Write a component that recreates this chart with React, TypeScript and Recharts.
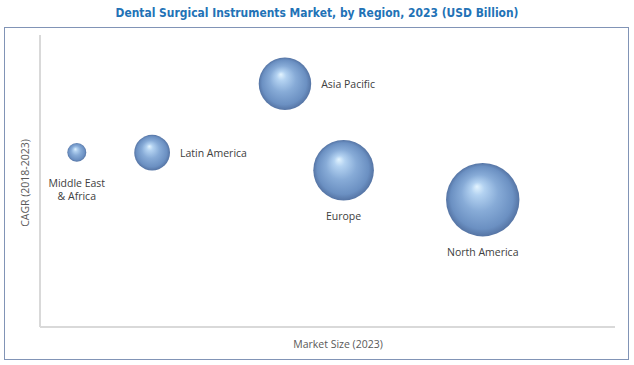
import React from 'react';
import { ScatterChart, Scatter, XAxis, YAxis, ZAxis, Label } from 'recharts';

// Bubble data (axis units 0-100, no ticks shown)
const regions = ['Middle East & Africa', 'Latin America', 'Asia Pacific', 'Europe', 'North America'];
const marketSizePos = [6.4, 19.5, 42.6, 52.8, 77.0];
const cagrPos = [59.8, 59.7, 83.3, 53.7, 43.6];
const marketValue = [0.09, 0.32, 0.69, 0.92, 1.35];

const labelSide: Record<string, 'right' | 'bottom'> = {
  'Middle East & Africa': 'bottom',
  'Latin America': 'right',
  'Asia Pacific': 'right',
  Europe: 'bottom',
  'North America': 'bottom',
};
const labelLines: Record<string, string[]> = {
  'Middle East & Africa': ['Middle East', '& Africa'],
};
const labelGap: Record<string, number> = { 'Middle East & Africa': 21 };

const data = regions.map((name, i) => ({
  name,
  x: marketSizePos[i],
  y: cagrPos[i],
  z: marketValue[i],
}));

const LABEL_FONT = '"Open Sans", "Liberation Sans", sans-serif';

const Bubble = (props: any) => {
  const { cx, cy, width, size, payload } = props;
  const r = width ? width / 2 : Math.sqrt((size || 0) / Math.PI);
  const side = labelSide[payload.name];
  const lines = labelLines[payload.name] || [payload.name];
  const gap = labelGap[payload.name] ?? 16;
  return (
    <g>
      <circle cx={cx} cy={cy} r={r} fill="url(#sphereGrad)" />
      {side === 'right' ? (
        <text x={cx + r + 10} y={cy} dominantBaseline="central" textAnchor="start"
          fontSize={10.5} fontFamily={LABEL_FONT} fill="#404040">{payload.name}</text>
      ) : (
        lines.map((l, i) => (
          <text key={i} x={cx} y={cy + r + gap + i * 13.5} dominantBaseline="central" textAnchor="middle"
            fontSize={10.5} fontFamily={LABEL_FONT} fill="#404040">{l}</text>
        ))
      )}
    </g>
  );
};

export default function App() {
  return (
    <div style={{ position: 'absolute', left: 0, top: 0, width: 634, height: 365, background: '#fff' }}>
      <svg width={634} height={24} style={{ position: 'absolute', left: 0, top: 0 }}>
        <text x={317} y={12} textAnchor="middle" dominantBaseline="central" fontSize={13} fontWeight="bold"
          fontFamily='"DejaVu Sans", Verdana, sans-serif' fill="#2272b6"
          textLength={403} lengthAdjust="spacingAndGlyphs">
          Dental Surgical Instruments Market, by Region, 2023 (USD Billion)
        </text>
      </svg>
      <div style={{ position: 'absolute', left: 4, top: 27, width: 623, height: 331, border: '1px solid #8194b6' }} />
      <div style={{ position: 'absolute', left: 0, top: 0 }}>
        <ScatterChart width={634} height={365} margin={{ top: 35, right: 19, bottom: 37, left: 39 }}>
          <defs>
            <radialGradient id="sphereGrad" cx="50%" cy="50%" r="50%" fx="42%" fy="32%">
              <stop offset="0%" stopColor="#e3f4ff" />
              <stop offset="18%" stopColor="#b3d2f1" />
              <stop offset="50%" stopColor="#87abd7" />
              <stop offset="85%" stopColor="#6b90c2" />
              <stop offset="100%" stopColor="#5574a4" />
            </radialGradient>
          </defs>
          <XAxis type="number" dataKey="x" domain={[0, 100]} height={1} tick={false} tickLine={false}
            axisLine={{ stroke: '#d9d9d9', strokeWidth: 2 }}>
            <Label content={(p: any) => {
              const vb = p.viewBox || { x: 40, y: 327, width: 575 };
              return (
                <text x={338} y={vb.y + 17} textAnchor="middle" dominantBaseline="central"
                  fontSize={10.5} fontFamily={LABEL_FONT} fill="#595959">Market Size (2023)</text>
              );
            }} />
          </XAxis>
          <YAxis type="number" dataKey="y" domain={[0, 100]} width={1} tick={false} tickLine={false}
            axisLine={{ stroke: '#d9d9d9', strokeWidth: 2 }}>
            <Label content={(p: any) => {
              const vb = p.viewBox || { x: 40, y: 35, height: 292 };
              const cy = vb.y + vb.height / 2 + 2;
              return (
                <text x={25} y={cy} transform={`rotate(-90 25 ${cy})`} textAnchor="middle"
                  dominantBaseline="central" fontSize={10.5} fontFamily={LABEL_FONT} fill="#595959">
                  CAGR (2018-2023)
                </text>
              );
            }} />
          </YAxis>
          <ZAxis type="number" dataKey="z" domain={[0, 1.35]} range={[0, Math.PI * 36.7 * 36.7]} />
          <Scatter data={data} shape={Bubble} isAnimationActive={false} />
        </ScatterChart>
      </div>
    </div>
  );
}
